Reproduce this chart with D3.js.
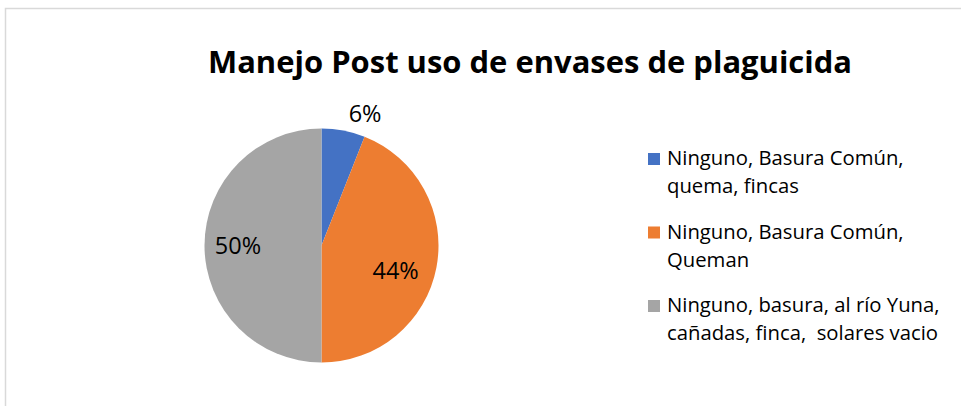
<!DOCTYPE html>
<html>
<head>
<meta charset="utf-8">
<script src="https://cdn.jsdelivr.net/npm/d3@7"></script>
<style>
	body { margin: 0; background: #fff; }
	text { font-family: "Open Sans", sans-serif; fill: #000; white-space: pre; }
</style>
</head>
<body>
<div id="chart"></div>
<script>
var chartTitle = "Manejo Post uso de envases de plaguicida";
var categories = [
	["Ninguno, Basura Común,", "quema, fincas"],
	["Ninguno, Basura Común,", "Queman"],
	["Ninguno, basura, al río Yuna,", "cañadas, finca,  solares vacio"]
];
var values = [6, 44, 50];
var colors = ["#4472C4", "#ED7D31", "#A5A5A5"];

var width = 961, height = 406;
var cx = 321.5, cy = 245.5, radius = 117;

var svg = d3.select("#chart").append("svg")
	.attr("width", width)
	.attr("height", height);

// light frame of the chart area
svg.append("path")
	.attr("d", "M5.5," + height + "V8.5H" + width)
	.attr("fill", "none")
	.attr("stroke", "#d9d9d9")
	.attr("stroke-width", 1.5);

svg.append("text")
	.attr("x", 530)
	.attr("y", 73)
	.attr("text-anchor", "middle")
	.attr("font-size", 30)
	.attr("font-weight", "bold")
	.attr("textLength", 644)
	.attr("lengthAdjust", "spacingAndGlyphs")
	.text(chartTitle);

var pie = d3.pie().sort(null).value(d => d);
var arcs = pie(values);
var arc = d3.arc().innerRadius(0).outerRadius(radius);

var g = svg.append("g").attr("transform", "translate(" + cx + "," + cy + ")");

g.selectAll("path")
	.data(arcs)
	.enter()
	.append("path")
	.attr("d", arc)
	.attr("fill", (d, i) => colors[i]);

var total = d3.sum(values);
g.selectAll("text.pct")
	.data(arcs)
	.enter()
	.append("text")
	.attr("class", "pct")
	.attr("font-size", 23.5)
	.each(function(d) {
		var mid = (d.startAngle + d.endAngle) / 2;
		var share = d.data / total;
		var t = d3.select(this);
		if (share < 0.1) {
			// small slice: label sits just outside the rim
			var r = radius + 12;
			t.attr("x", Math.sin(mid) * r + 3)
				.attr("y", -Math.cos(mid) * r + 3)
				.attr("text-anchor", "start");
		}
		else {
			var r2 = radius * 0.68;
			t.attr("x", Math.sin(mid) * r2 - 4)
				.attr("y", -Math.cos(mid) * r2 + 8.5 + (share < 0.5 ? 10 : 0))
				.attr("text-anchor", "middle");
		}
	})
	.text(d => Math.round(d.data / total * 100) + "%");

// legend
var legend = svg.append("g").attr("transform", "translate(648,165)");
var item = legend.selectAll("g")
	.data(categories)
	.enter()
	.append("g")
	.attr("transform", (d, i) => "translate(0," + (i * 73.5) + ")");

item.append("rect")
	.attr("x", 0)
	.attr("y", -12)
	.attr("width", 12)
	.attr("height", 12)
	.attr("fill", (d, i) => colors[i]);

item.append("text")
	.attr("x", 19)
	.attr("y", 0)
	.attr("font-size", 20.3)
	.selectAll("tspan")
	.data(d => d)
	.enter()
	.append("tspan")
	.attr("x", 19)
	.attr("dy", (d, j) => j == 0 ? 0 : 28)
	.text(d => d);
</script>
</body>
</html>
